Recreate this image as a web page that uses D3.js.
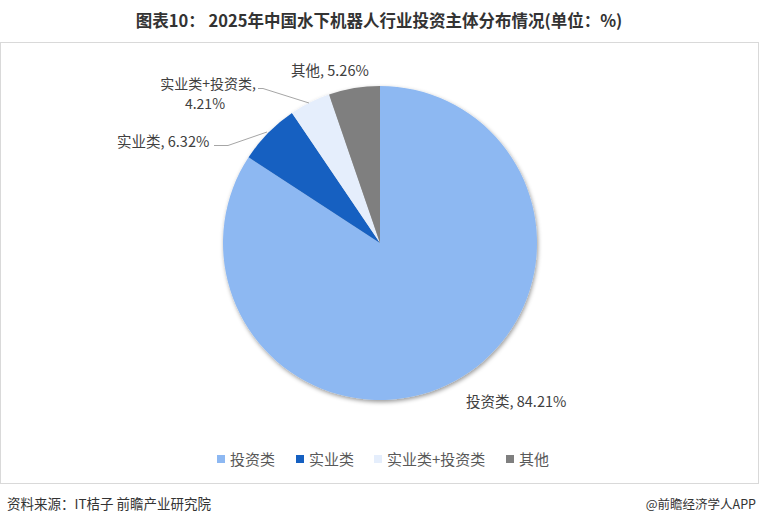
<!DOCTYPE html>
<html><head><meta charset="utf-8">
<script src="https://cdn.jsdelivr.net/npm/d3@7"></script>
<style>body{margin:0;background:#fff;}svg{display:block;font-family:"Microsoft YaHei","Noto Sans CJK SC",sans-serif;}</style>
</head><body>
<svg id="c" width="760" height="524"></svg>
<script>
const categories = ["投资类","实业类","实业类+投资类","其他"];
const values = [84.21, 6.32, 4.21, 5.26];
const colors = ["#8db8f2","#1560c1","#e5eefc","#7f7f7f"];
const labelText = ["投资类, 84.21%","实业类, 6.32%",["实业类+投资类,","4.21%"],"其他, 5.26%"];

const svg = d3.select("#c");
svg.append("text").attr("x",379).attr("y",27).attr("text-anchor","middle")
  .attr("font-size",16.5).attr("font-weight","bold").attr("fill","#333")
  .text("图表10：  2025年中国水下机器人行业投资主体分布情况(单位：%)");
svg.append("rect").attr("x",0.5).attr("y",42.5).attr("width",758).attr("height",441)
  .attr("fill","none").attr("stroke","#d9d9d9");

const defs = svg.append("defs");
const f = defs.append("filter").attr("id","sh").attr("x","-20%").attr("y","-20%").attr("width","140%").attr("height","140%");
f.append("feDropShadow").attr("dx",1).attr("dy",2).attr("stdDeviation",2).attr("flood-color","#000").attr("flood-opacity",0.4);

const cx = 380, cy = 243, r = 157;
const pie = d3.pie().sort(null).value(d=>d)(values);
const arc = d3.arc().innerRadius(0).outerRadius(r);
const g = svg.append("g").attr("transform",`translate(${cx},${cy})`);
g.append("g").attr("filter","url(#sh)").selectAll("path").data(pie).join("path")
  .attr("d",arc).attr("fill",(d,i)=>colors[i]);

// labels
const lab = svg.append("g").attr("font-size",14.5).attr("fill","#404040");
function lbl(x,y,t,anchor,fs){const t2=lab.append("text").attr("x",x).attr("y",y).attr("text-anchor",anchor||"start").text(t); if(fs) t2.attr("font-size",fs);}
lbl(466,407,labelText[0]);
lbl(117,147,labelText[1]);
lbl(256,89,labelText[2][0],"end",14);
lbl(205,109,labelText[2][1],"middle",14);
lbl(291,76,labelText[3]);
const ln = svg.append("g").attr("fill","none").attr("stroke","#a6a6a6").attr("stroke-width",1);
ln.append("path").attr("d","M214,145.5H228L267,132");
ln.append("path").attr("d","M258,88.5H263L309,103");

// legend
const lg = svg.append("g").attr("font-size",15).attr("fill","#595959");
const lx = [217,296,374,506];
categories.forEach((c,i)=>{
  lg.append("rect").attr("x",lx[i]).attr("y",455).attr("width",8).attr("height",8).attr("fill",colors[i]);
  lg.append("text").attr("x",lx[i]+13).attr("y",465).text(c);
});

svg.append("text").attr("x",7).attr("y",509).attr("font-size",13.5).attr("fill","#333").text("资料来源：IT桔子 前瞻产业研究院");
svg.append("text").attr("x",756).attr("y",509).attr("text-anchor","end").attr("font-size",12.5).attr("fill","#333").text("@前瞻经济学人APP");
</script>
</body></html>
